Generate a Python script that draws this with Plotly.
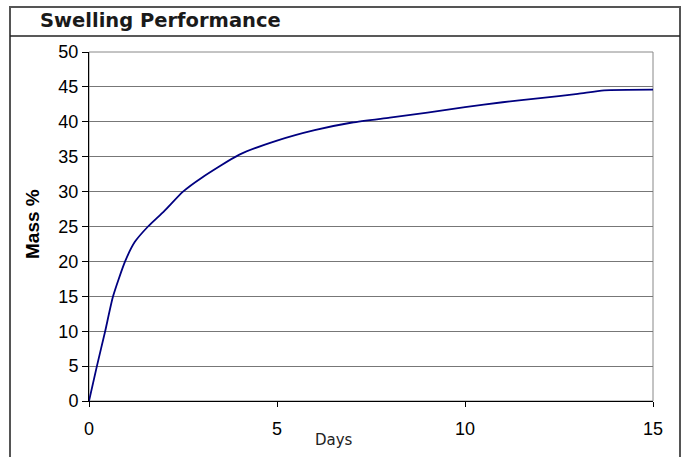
import plotly.graph_objects as go

# swelling curve
days = [0, 0.21, 0.43, 0.64, 0.96, 1.22, 1.57, 2.0, 2.5, 3.0, 4.0, 5.0, 6.0, 7.0,
        8.0, 9.0, 10.0, 11.0, 12.0, 13.0, 13.7, 15.0]
mass = [0, 5, 10, 15, 20, 22.8, 25, 27.2, 30, 32, 35.3, 37.3, 38.8, 39.9,
        40.6, 41.3, 42.1, 42.8, 43.4, 44.0, 44.5, 44.6]

x_ticks = [0, 5, 10, 15]
y_ticks = list(range(0, 51, 5))

W, H = 683, 457


def px(x):
    return x / W


def py(y):
    return 1 - y / H


fig = go.Figure()
fig.add_trace(go.Scatter(x=days, y=mass, mode="lines",
                         line={"color": "#000080", "width": 1.8,
                               "shape": "spline", "smoothing": 0.6},
                         showlegend=False, hoverinfo="skip"))

tick_font = {"family": "Liberation Sans, Arial", "size": 18, "color": "black"}

fig.update_layout(
    template="none",
    width=W, height=H,
    margin={"l": 0, "r": 0, "t": 0, "b": 0, "pad": 0},
    paper_bgcolor="white", plot_bgcolor="white",
    xaxis={
        "domain": [px(89), px(653)], "range": [0, 15], "automargin": False,
        "tickvals": x_ticks, "ticks": "outside", "ticklen": 5,
        "tickcolor": "black", "showline": True, "linecolor": "black",
        "showgrid": False, "zeroline": False, "tickfont": tick_font,
        "ticklabelstandoff": 6,
    },
    yaxis={
        "domain": [py(401), py(52)], "range": [0, 50], "automargin": False,
        "tickvals": y_ticks, "ticks": "outside", "ticklen": 6,
        "tickcolor": "black", "showline": True, "linecolor": "black",
        "showgrid": True, "gridcolor": "#777777", "gridwidth": 1.2,
        "zeroline": False, "tickfont": tick_font,
    },
    shapes=[
        # outer frame and title bar
        {"type": "rect", "xref": "paper", "yref": "paper",
         "x0": px(10), "x1": px(680), "y0": py(470), "y1": py(7),
         "line": {"color": "#555555", "width": 2}},
        {"type": "line", "xref": "paper", "yref": "paper",
         "x0": px(10), "x1": px(680), "y0": py(36), "y1": py(36),
         "line": {"color": "#222222", "width": 1.5}},
        # plot area border
        {"type": "rect", "xref": "paper", "yref": "paper",
         "x0": px(89), "x1": px(653), "y0": py(401), "y1": py(52),
         "line": {"color": "#888888", "width": 1}, "layer": "below"},
    ],
    annotations=[
        {"text": "<b>Swelling Performance</b>", "xref": "paper", "yref": "paper",
         "x": px(38), "y": py(21), "xanchor": "left", "yanchor": "middle",
         "showarrow": False,
         "font": {"family": "DejaVu Sans", "size": 19.5, "color": "#1a1a1a"}},
        {"text": "<b>Mass %</b>", "xref": "paper", "yref": "paper",
         "x": px(33), "y": py(224), "xanchor": "center", "yanchor": "middle",
         "textangle": -90, "showarrow": False,
         "font": {"family": "Liberation Sans, Arial", "size": 19, "color": "black"}},
        {"text": "Days", "xref": "paper", "yref": "paper",
         "x": px(334), "y": py(440), "xanchor": "center", "yanchor": "middle",
         "showarrow": False,
         "font": {"family": "DejaVu Sans", "size": 15, "color": "#222222"}},
    ],
)

# drop the browser's default 8px page margin so the figure sits at 0,0
fig.write_html("out.html", config={"displayModeBar": False},
               post_script="document.body.style.margin='0';")
